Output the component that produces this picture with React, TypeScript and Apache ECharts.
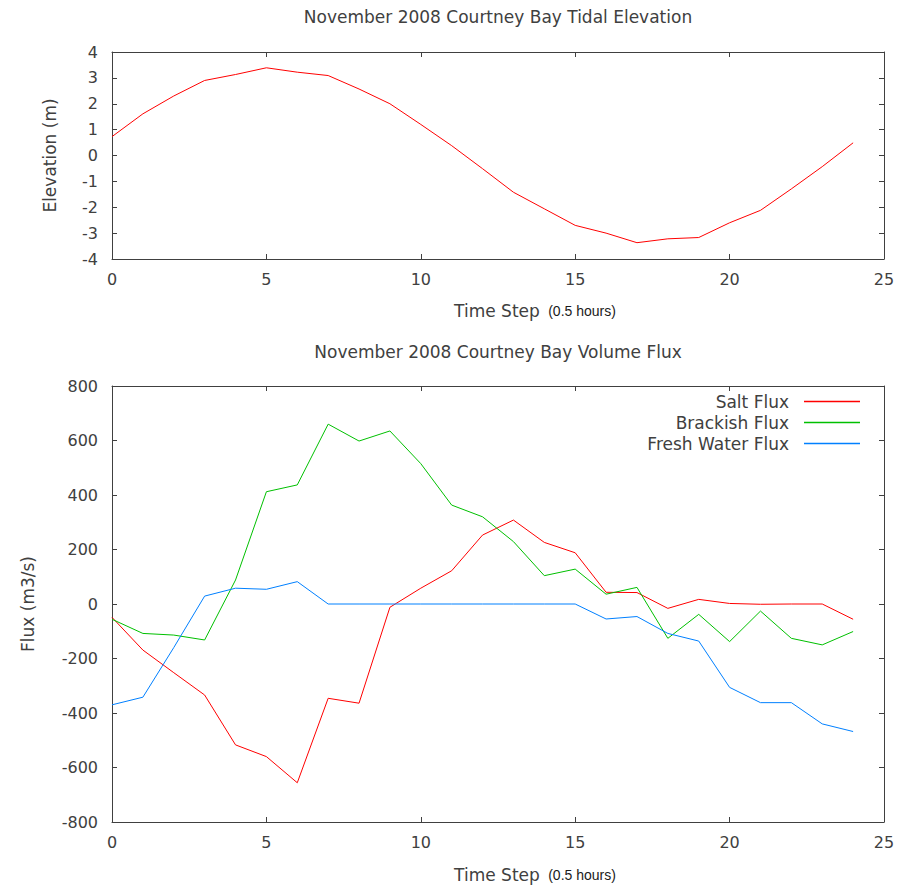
import React, { useEffect, useRef } from "react";
import * as echarts from "echarts";

const timeSteps = [0,1,2,3,4,5,6,7,8,9,10,11,12,13,14,15,16,17,18,19,20,21,22,23,24];
const elevation = [0.73,1.61,2.3,2.9,3.13,3.39,3.22,3.09,2.57,2.0,1.2,0.38,-0.51,-1.42,-2.06,-2.7,-3.0,-3.37,-3.22,-3.17,-2.6,-2.12,-1.29,-0.43,0.49];
const saltFlux = [-49,-169,-252,-334,-517,-560,-656,-346,-364,-12,58,122,253,308,226,188,43,42,-16,17,2,-1,0,0,-56];
const brackishFlux = [-56,-108,-114,-132,88,412,437,660,598,635,515,363,320,229,104,128,36,61,-126,-38,-138,-26,-126,-150,-101];
const freshFlux = [-370,-342,-160,29,58,54,82,0,0,0,0,0,0,0,0,0,-55,-46,-108,-136,-306,-362,-362,-440,-468];
const seriesNames = ["Salt Flux", "Brackish Flux", "Fresh Water Flux"];
const seriesColors = ["#ff0000", "#00c000", "#0080ff"];
const topTitle = "November 2008 Courtney Bay Tidal Elevation";
const bottomTitle = "November 2008 Courtney Bay Volume Flux";

const FONT = "DejaVu Sans";
const TXT = "#404040";

function pairs(ys: number[]) {
  return timeSteps.map((x, i) => [x, ys[i]]);
}

function xAxes(gridIndex: number, nameGap: number) {
  const base = {
    type: "value" as const,
    gridIndex,
    min: 0,
    max: 25,
    interval: 5,
    splitLine: { show: false },
    axisLine: { show: true, onZero: false, lineStyle: { color: TXT, width: 1 } },
    axisTick: { show: true, inside: true, length: 5, lineStyle: { color: TXT } },
  };
  return [
    {
      ...base,
      position: "bottom",
      name: "Time Step {s|(0.5 hours)}",
      nameLocation: "middle",
      nameGap,
      nameTextStyle: {
        fontFamily: FONT,
        fontSize: 17,
        color: TXT,
        padding: [0, 0, 0, 74],
        rich: { s: { fontFamily: "Liberation Sans", fontSize: 14, color: "#1a1a1a", padding: [0, 0, 0, 3] } },
      },
      axisLabel: { show: true, margin: 12, fontFamily: FONT, fontSize: 16, color: TXT },
    },
    { ...base, position: "top", axisLabel: { show: false } },
  ];
}

function yAxes(gridIndex: number, min: number, max: number, interval: number, name: string, nameGap: number) {
  const base = {
    type: "value" as const,
    gridIndex,
    min,
    max,
    interval,
    splitLine: { show: false },
    axisLine: { show: true, onZero: false, lineStyle: { color: TXT, width: 1 } },
    axisTick: { show: true, inside: true, length: 5, lineStyle: { color: TXT } },
  };
  return [
    {
      ...base,
      position: "left",
      name,
      nameLocation: "middle",
      nameGap,
      nameTextStyle: { fontFamily: FONT, fontSize: 17, color: TXT },
      axisLabel: { show: true, margin: 14, fontFamily: FONT, fontSize: 16, color: TXT },
    },
    { ...base, position: "right", axisLabel: { show: false } },
  ];
}

export default function App() {
  const ref = useRef<HTMLDivElement>(null);
  useEffect(() => {
    if (!ref.current) return;
    const chart = echarts.init(ref.current, undefined, { renderer: "svg" });
    const fluxSeries = [saltFlux, brackishFlux, freshFlux];
    const legendTops = [388, 409, 430];
    chart.setOption({
      animation: false,
      backgroundColor: "#ffffff",
      title: [
        { text: topTitle, left: 493, top: 3, textAlign: "center", textStyle: { fontFamily: FONT, fontSize: 17, fontWeight: "normal", color: TXT } },
        { text: bottomTitle, left: 493, top: 338, textAlign: "center", textStyle: { fontFamily: FONT, fontSize: 17, fontWeight: "normal", color: TXT } },
      ],
      grid: [
        { left: 112, right: 14, top: 52, height: 207 },
        { left: 112, right: 14, top: 386, height: 436 },
      ],
      xAxis: [...xAxes(0, 43), ...xAxes(1, 44)],
      yAxis: [
        ...yAxes(0, -4, 4, 1, "Elevation (m)", 54),
        ...yAxes(1, -800, 800, 200, "Flux (m3/s)", 76),
      ],
      legend: seriesNames.map((n, i) => ({
        data: [n],
        orient: "vertical",
        align: "right",
        right: 33,
        top: legendTops[i],
        icon: "rect",
        itemWidth: 56,
        itemHeight: 1.5,
        selectedMode: false,
        textStyle: { fontFamily: FONT, fontSize: 17, color: TXT, padding: [0, 10, 0, 0] },
      })),
      series: [
        {
          name: "Elevation",
          type: "line",
          xAxisIndex: 0,
          yAxisIndex: 0,
          data: pairs(elevation),
          symbol: "none",
          lineStyle: { color: "#ff0000", width: 1 },
          itemStyle: { color: "#ff0000" },
        },
        ...fluxSeries.map((ys, i) => ({
          name: seriesNames[i],
          type: "line",
          xAxisIndex: 2,
          yAxisIndex: 2,
          data: pairs(ys),
          symbol: "none",
          lineStyle: { color: seriesColors[i], width: 1 },
          itemStyle: { color: seriesColors[i] },
        })),
      ],
    });
    return () => chart.dispose();
  }, []);
  return (
    <div
      ref={ref}
      style={{ position: "fixed", left: 0, top: 0, width: 898, height: 886 }}
    />
  );
}
